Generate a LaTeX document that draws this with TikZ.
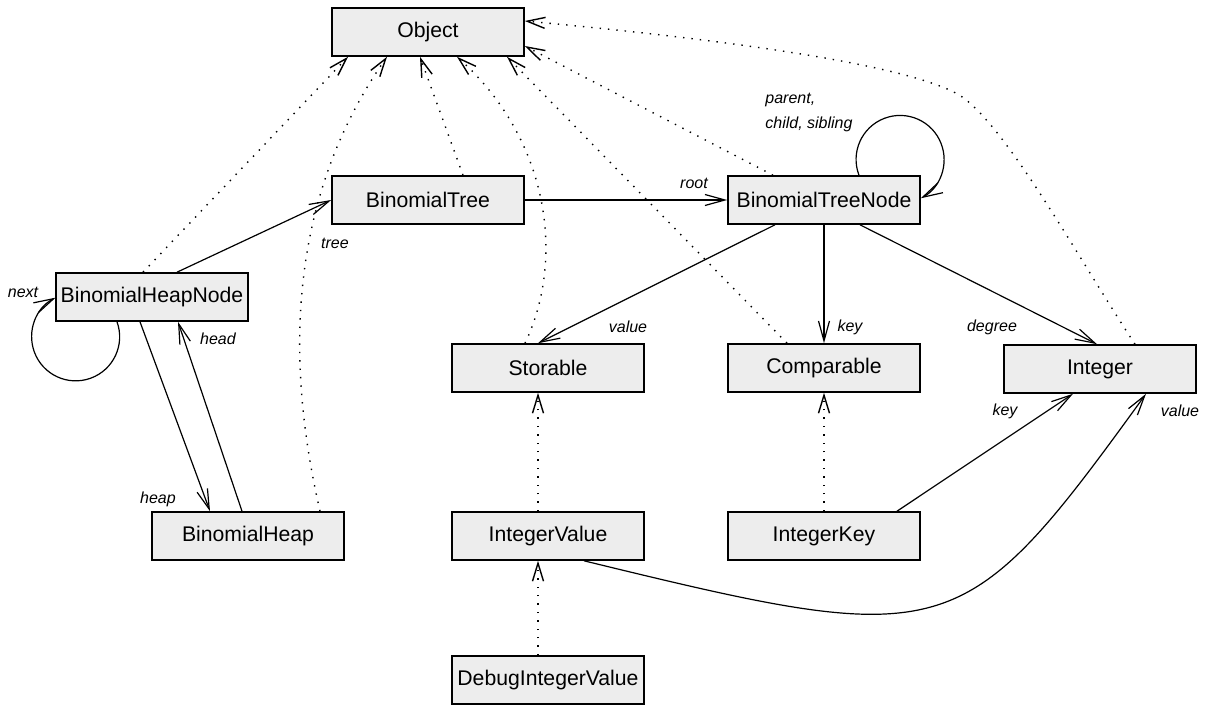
\documentclass[tikz,border=0pt]{standalone}
\usepackage{fontspec}
\setmainfont{Liberation Sans}
\usetikzlibrary{arrows.meta,calc}
\begin{document}
\begin{tikzpicture}[x=0.5pt,y=-0.5pt,
  cls/.style={draw=black, line width=0.8pt, fill=black!7, minimum width=96pt, minimum height=24pt, inner sep=0pt, font=\fontsize{10.6}{12}\selectfont},
  lbl/.style={inner sep=0pt, font=\itshape\fontsize{8}{12.5}\selectfont},
  rel/.style={line width=0.6pt, -{Straight Barb[length=10pt,width=5.5pt]}},
  inh/.style={line width=0.7pt, dash pattern=on 0.7pt off 3.5pt, -{Straight Barb[length=9pt,width=5.5pt]}}]
\useasboundingbox (0,0) rectangle (1207,717);
% classes
\node[cls] (obj) at (428,32) {Object};
\node[cls] (bt) at (428,200) {BinomialTree};
\node[cls] (btn) at (824,200) {BinomialTreeNode};
\node[cls] (bhn) at (152,297) {BinomialHeapNode};
\node[cls] (sto) at (548,368) {Storable};
\node[cls] (cmp) at (824,368) {Comparable};
\node[cls] (int) at (1100,369) {Integer};
\node[cls] (bh) at (248,536) {BinomialHeap};
\node[cls] (iv) at (548,536) {IntegerValue};
\node[cls] (ik) at (824,536) {IntegerKey};
\node[cls] (div) at (548,680) {DebugIntegerValue};
% associations
\draw[rel] ($(bhn.north)+(25,0)$) -- (bt.west);
\draw[rel] (bt.east) -- (btn.west);
\draw[rel] ($(bhn.south)+(-12,0)$) -- ($(bh.north)+(-38,0)$);
\draw[rel] ($(bh.north)+(-6,0)$) -- ($(bhn.south)+(26,0)$);
\draw[rel] ($(btn.south)+(-49,0)$) -- ($(sto.north)+(-10,0)$);
\draw[rel] (btn.south) -- (cmp.north);
\draw[rel] ($(btn.south)+(36,0)$) -- ($(int.north)+(-3,0)$);
\draw[rel] ($(ik.north)+(73,0)$) -- ($(int.south)+(-27,0)$);
\draw[rel] ($(iv.south)+(36,0)$) .. controls (950,650) and (962,648) .. ($(int.south)+(46,0)$);
\draw[rel] ($(bhn.south)+(-35,0)$) arc[start angle=-20, end angle=243, radius=44];
\draw[rel] ($(btn.north)+(35,0)$) arc[start angle=159, end angle=422, radius=44];
% inheritance
\draw[inh] ($(bhn.north)+(-9,0)$) -- ($(obj.south)+(-80,0)$);
\draw[inh] ($(bh.north)+(72,0)$) .. controls (290,380) and (280,210) .. ($(obj.south)+(-41,0)$);
\draw[inh] ($(bt.north)+(35,0)$) -- ($(obj.south)+(-8,0)$);
\draw[inh] ($(sto.north)+(-23,0)$) .. controls (565,260) and (550,140) .. ($(obj.south)+(29,0)$);
\draw[inh] ($(cmp.north)+(-37,0)$) -- ($(obj.south)+(79,0)$);
\draw[inh] ($(btn.north)+(-51,0)$) -- ($(obj.east)+(0,14)$);
\draw[inh] ($(int.north)+(35,0)$) .. controls (1080,261) and (1012,136) .. (965,99) .. controls (918,62) and (677,35) .. ($(obj.east)+(0,-11)$);
\draw[inh] ($(iv.north)+(-10,0)$) -- ($(sto.south)+(-10,0)$);
\draw[inh] (ik.north) -- (cmp.south);
\draw[inh] ($(div.north)+(-10,0)$) -- ($(iv.south)+(-10,0)$);
% labels
\node[lbl] (lnext) at (23,292) {next};
\node[lbl] (lhead) at (218,339) {head};
\node[lbl] (lheap) at (158,499) {heap};
\node[lbl] (ltree) at (335,243) {tree};
\node[lbl] (lroot) at (694,183) {root};
\node[lbl, anchor=west, align=left] (lpcs) at (765,112) {parent,\\child, sibling};
\node[lbl] (lval) at (628,327) {value};
\node[lbl] (lkey) at (850,327) {key};
\node[lbl] (ldeg) at (992,327) {degree};
\node[lbl] (lkey2) at (1005,411) {key};
\node[lbl] (lval2) at (1180,411) {value};
\end{tikzpicture}
\end{document}
